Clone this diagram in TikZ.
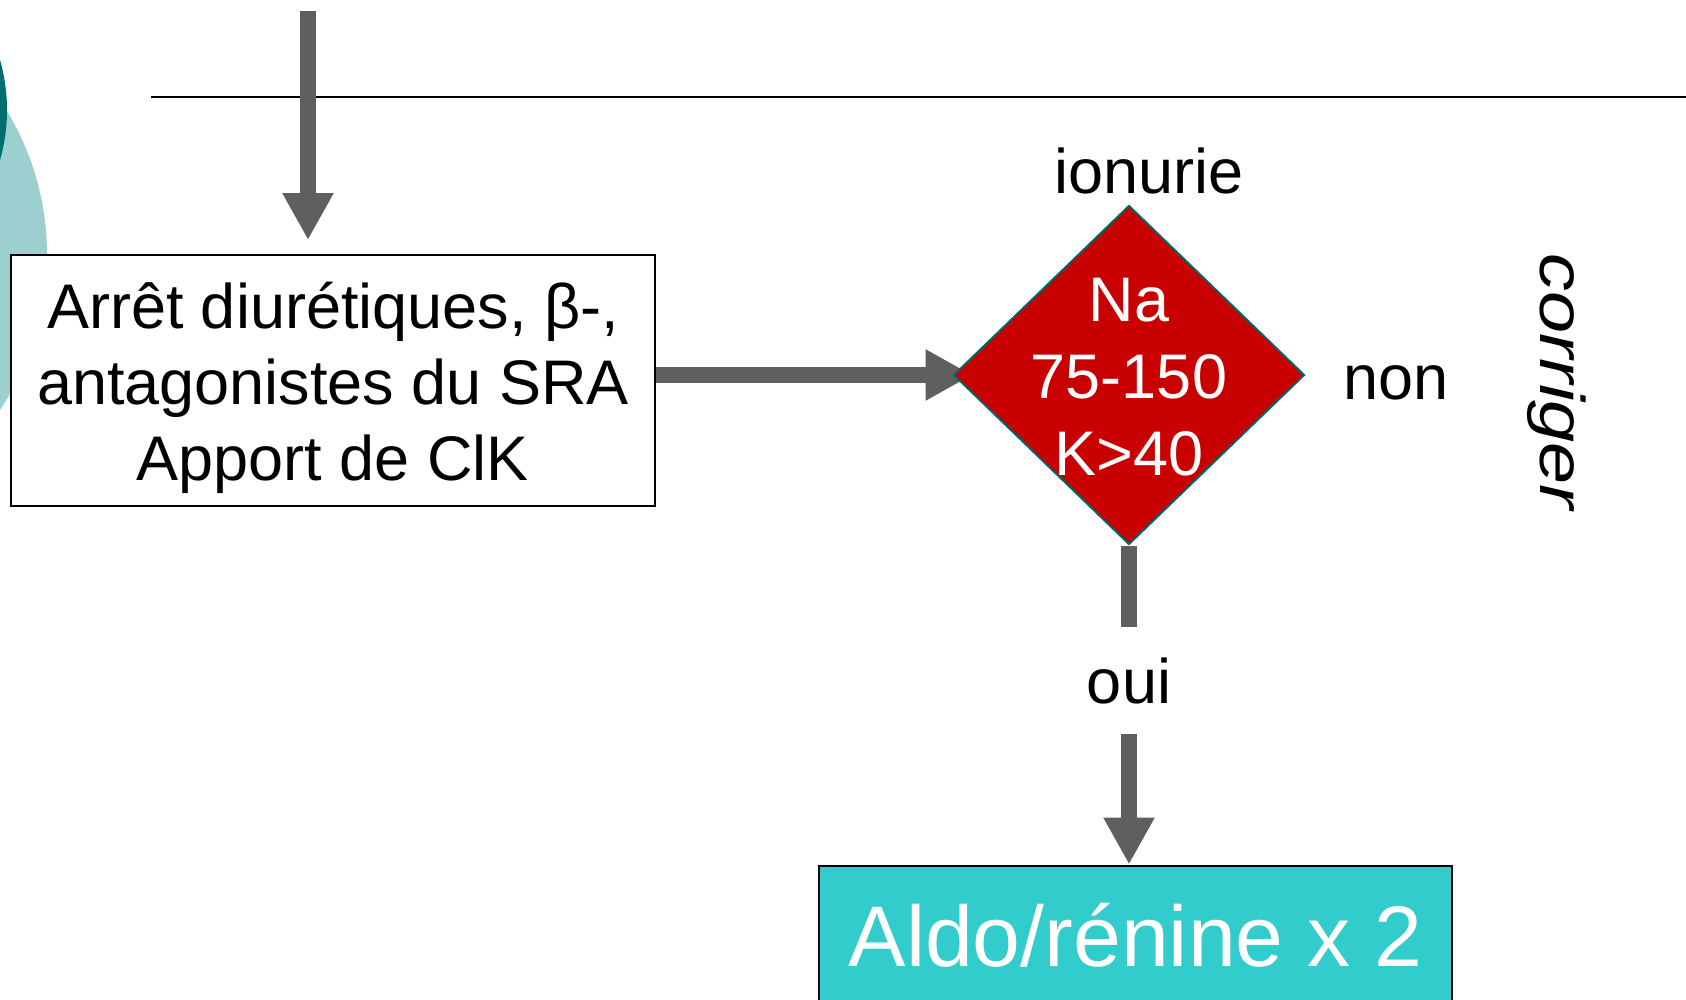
\documentclass[tikz,border=0pt]{standalone}
\usepackage{fontspec}
\usepackage{graphicx}
\setmainfont{Liberation Sans}
\usetikzlibrary{shapes.geometric,arrows.meta,backgrounds}
\definecolor{arrgray}{HTML}{5F5F5F}
\definecolor{dred}{HTML}{C80000}
\definecolor{dteal}{HTML}{006666}
\definecolor{lteal}{HTML}{9CCFCF}
\definecolor{ringteal}{HTML}{006E6E}
\definecolor{cyanbox}{HTML}{33CCCC}
\begin{document}
\begin{tikzpicture}[x=1pt,y=-1pt,
  txt/.style={font=\fontsize{63}{76}\selectfont, align=center, inner sep=0pt},
  lbl/.style={font=\fontsize{63}{76}\selectfont, inner sep=0pt},
  shaft/.style={draw=arrgray, line width=16pt},
  arr/.style={shaft, -{Triangle[length=47pt,width=48pt]}},
  decision/.style={diamond, draw=dteal, fill=dred, line width=2pt, minimum width=351pt, minimum height=339pt, inner sep=0pt},
  actbox/.style={draw=black, fill=white, line width=2pt, minimum width=644pt, minimum height=251pt},
  resbox/.style={draw=black, fill=cyanbox, line width=2pt, minimum width=633pt, minimum height=140pt, inner sep=0pt, text=white, font=\fontsize{86}{100}\selectfont, text height=62pt, text depth=0pt}
]
\useasboundingbox (0,0) rectangle (1686,999);

% nodes
\node[actbox, txt] (box1) at (333,380.5) {Arrêt diurétiques, β-,\rule{0pt}{62pt}\\antagonistes du SRA\\Apport de ClK};
\node[decision] (dia) at (1129,375) {};
\node[txt, text=white, font=\fontsize{63}{77}\selectfont] (diatext) at (1129,377) {Na\\75-150\\K>40};
\node[lbl, anchor=base] (ion) at (1149,193.6) {ionurie};
\node[lbl, anchor=base] (non) at (1396,399) {non};
\node[lbl, anchor=base, text height=45pt, text depth=0pt, inner ysep=31pt] (oui) at (1129,703) {oui};
\node[resbox, anchor=north] (aldo) at (1135.5,864.5) {Aldo/rénine x 2};
\node[rotate=-90, inner sep=0pt, font=\fontsize{63}{76}\selectfont\itshape] (corr) at (1557,382) {\scalebox{1.2}[1]{corriger}};

\coordinate (topstart) at (308,11);
\coordinate (hlA) at (151,97);
\coordinate (hlB) at (1686,97);

\begin{pgfonlayer}{background}
  \fill[lteal] (-232,255) circle[radius=279];
  \fill[ringteal] (-175,110) circle[radius=182];
  \draw[line width=2.5pt] (hlA) -- (hlB);
  \draw[arr, shorten >=14pt] (topstart) -- (topstart |- box1.north);
  \draw[arr] (box1.east |- dia.west) -- ([xshift=20pt]dia.west);
  \draw[shaft] (dia.south) -- (oui.north);
  \draw[arr] (oui.south) -- (oui.south |- aldo.north);
\end{pgfonlayer}
\end{tikzpicture}
\end{document}
